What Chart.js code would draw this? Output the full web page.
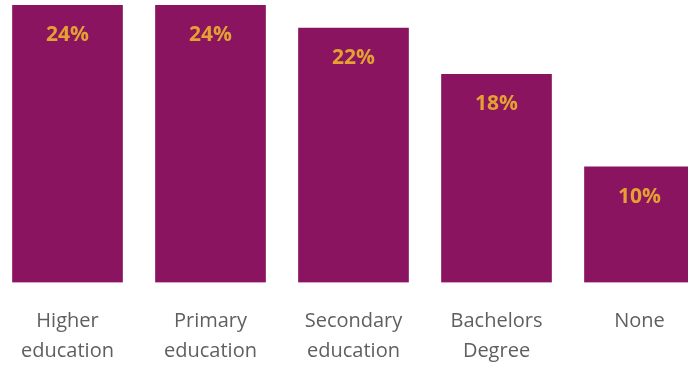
<!DOCTYPE html>
<html>
<head>
<meta charset="utf-8">
<script src="https://cdn.jsdelivr.net/npm/chart.js@4/dist/chart.umd.min.js"></script>
<style>
  html, body { margin: 0; padding: 0; background: #fff; overflow: hidden; }
  #wrap { position: absolute; left: -4px; top: 0; width: 715px; height: 365px; }
</style>
</head>
<body>
<div id="wrap"><canvas id="c"></canvas></div>
<script>
// Education levels and their shares (%)
const categories = [
  ["Higher", "education"],
  ["Primary", "education"],
  ["Secondary", "education"],
  ["Bachelors", "Degree"],
  ["None"]
];
const shares = [24, 24, 22, 18, 10];

const barColor = "#8a1460";
const valueColor = "#e5a032";
const labelColor = "#5f5f5f";
const fontFamily = "'Open Sans', 'Noto Sans', sans-serif";

// Writes each bar's value inside the top of the bar
const valueLabels = {
  id: "valueLabels",
  afterDatasetsDraw(chart) {
    const ctx = chart.ctx;
    const meta = chart.getDatasetMeta(0);
    ctx.save();
    ctx.font = "bold 21px " + fontFamily;
    ctx.fillStyle = valueColor;
    ctx.textAlign = "center";
    ctx.textBaseline = "middle";
    meta.data.forEach((bar, i) => {
      ctx.fillText(chart.data.datasets[0].data[i] + "%", bar.x, bar.y + 30);
    });
    ctx.restore();
  }
};

new Chart(document.getElementById("c"), {
  type: "bar",
  data: {
    labels: categories,
    datasets: [{
      data: shares,
      backgroundColor: barColor,
      borderWidth: 0,
      barThickness: 110
    }]
  },
  options: {
    responsive: true,
    maintainAspectRatio: false,
    animation: false,
    layout: { padding: { top: 5, left: 0, right: 0, bottom: 0 } },
    plugins: { legend: { display: false }, tooltip: { enabled: false } },
    scales: {
      y: {
        display: false,
        min: 0,
        max: 24
      },
      x: {
        grid: { display: false, drawTicks: false },
        border: { display: false },
        ticks: {
          color: labelColor,
          padding: 24,
          font: { family: fontFamily, size: 20, lineHeight: 1.5 },
          maxRotation: 0,
          autoSkip: false
        },
        afterFit(axis) { axis.height = 82.5; }
      }
    }
  },
  plugins: [valueLabels]
});
</script>
</body>
</html>
